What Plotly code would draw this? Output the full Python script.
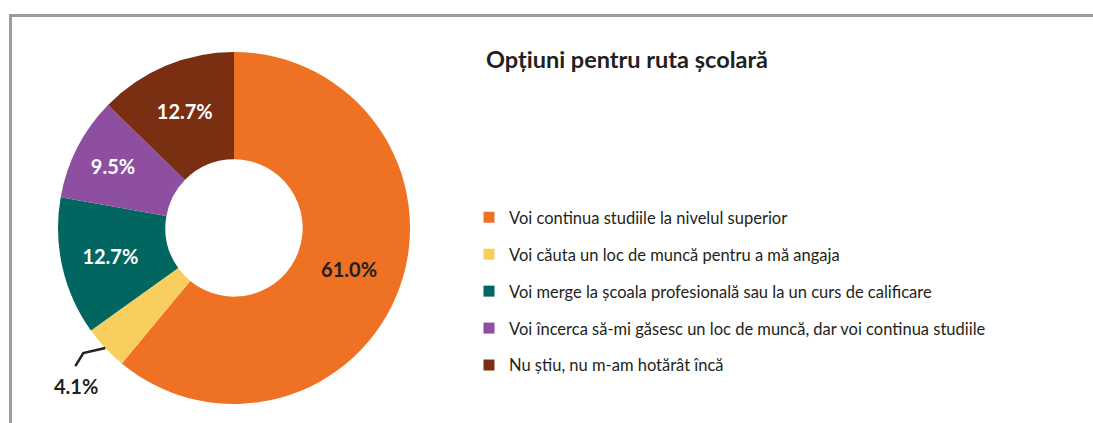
import math
import plotly.graph_objects as go

# date
categorii = [
    "Voi continua studiile la nivelul superior",
    "Voi căuta un loc de muncă pentru a mă angaja",
    "Voi merge la școala profesională sau la un curs de calificare",
    "Voi încerca să-mi găsesc un loc de muncă, dar voi continua studiile",
    "Nu știu, nu m-am hotărât încă",
]
procente = [61.0, 4.1, 12.7, 9.5, 12.7]
culori = ["#EE7124", "#F8CF5E", "#00665F", "#8E4FA1", "#7A2E12"]
culori_text = ["#231F20", "#231F20", "#FFFFFF", "#FFFFFF", "#FFFFFF"]
pozitii_text = ["inside", "none", "inside", "inside", "inside"]

W, H = 1093, 423
CX, CY, R = 234, 228, 176  # centrul si raza gogosii, in pixeli
FONT = "Lato, 'Open Sans', sans-serif"

fig = go.Figure()

fig.add_trace(go.Pie(
    labels=categorii,
    values=procente,
    sort=False,
    direction="clockwise",
    rotation=0,
    hole=0.39,
    marker=dict(colors=culori, line=dict(width=0)),
    textinfo="percent",
    texttemplate="%{percent:.1%}",
    textposition=pozitii_text,
    insidetextorientation="horizontal",
    textfont=dict(family=FONT, size=20, color=culori_text, weight="bold"),
    domain=dict(x=[(CX - R) / W, (CX + R) / W], y=[(H - CY - R) / H, (H - CY + R) / H]),
    showlegend=False,
    hoverinfo="label+percent",
))

# legenda cu spatiere mai mare (o grupa pe categorie)
for nume, culoare in zip(categorii, culori):
    fig.add_trace(go.Scatter(
        x=[None], y=[None], mode="markers", name=nume,
        legendgroup=nume,
        marker=dict(symbol="square", size=11, color=culoare),
    ))

# eticheta exterioara pentru felia mica (4.1%)
idx = 1
total = sum(procente)
mid = (sum(procente[:idx]) + procente[idx] / 2) / total * 2 * math.pi
ex, ey = CX + R * math.sin(mid), CY - R * math.cos(mid)
pts = [(ex, ey), (ex - 22, ey + 5), (ex - 30, ey + 18)]
path = "M " + " L ".join(f"{x / W},{1 - y / H}" for x, y in pts)

fig.add_shape(type="path", path=path, xref="paper", yref="paper",
              line=dict(color="#231F20", width=2.5))
fig.add_annotation(
    x=(ex - 29) / W, y=1 - (ey + 38) / H, xref="paper", yref="paper",
    xanchor="center", yanchor="middle",
    text=f"{procente[idx]:.1f}%", showarrow=False,
    font=dict(family=FONT, size=20, color="#231F20", weight="bold"),
)

# chenar gri
fig.add_shape(type="line", xref="paper", yref="paper", x0=9 / W, x1=1, y0=1 - 15.5 / H, y1=1 - 15.5 / H,
              line=dict(color="#9B9B9B", width=3))
fig.add_shape(type="line", xref="paper", yref="paper", x0=10.5 / W, x1=10.5 / W, y0=0, y1=1 - 14 / H,
              line=dict(color="#9B9B9B", width=3))

fig.update_layout(
    width=W, height=H,
    paper_bgcolor="white",
    plot_bgcolor="white",
    margin=dict(l=0, r=0, t=0, b=0),
    font=dict(family=FONT, color="#231F20"),
    xaxis=dict(visible=False),
    yaxis=dict(visible=False),
    title=dict(
        text="<b>Opțiuni pentru ruta școlară</b>",
        x=486 / W, xanchor="left", xref="paper",
        y=1 - 60 / H, yanchor="middle", yref="container",
        font=dict(family=FONT, size=23.5, color="#231F20"),
    ),
    legend=dict(
        x=469 / W, xanchor="left",
        y=1 - 200 / H, yanchor="top",
        font=dict(family=FONT, size=16.5, color="#231F20"),
        tracegroupgap=12.5,
        traceorder="grouped",
        bgcolor="rgba(0,0,0,0)",
    ),
)

fig.write_html(
    "out.html",
    config={"displayModeBar": False},
    post_script="document.body.style.margin='0';document.body.style.overflow='hidden';",
)
